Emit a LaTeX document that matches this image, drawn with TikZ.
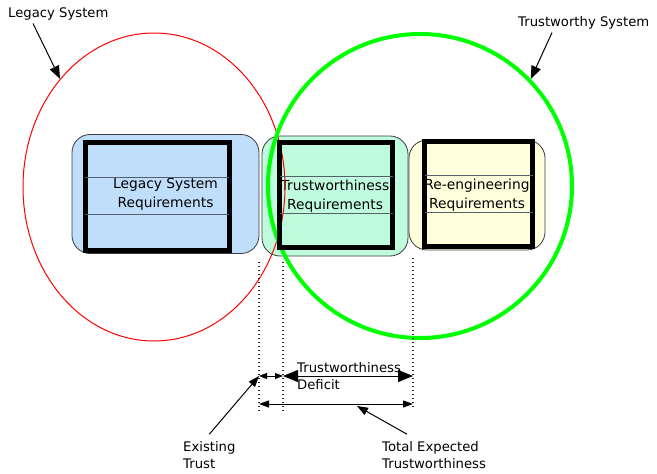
\documentclass[tikz,border=0pt]{standalone}
\usepackage{fontspec}
\setmainfont{DejaVu Sans}
\usetikzlibrary{arrows.meta,calc,shapes.geometric}

\definecolor{legacyblue}{RGB}{191,222,252}
\definecolor{trustmint}{RGB}{191,252,222}
\definecolor{reengyellow}{RGB}{255,255,222}
\definecolor{boxedge}{RGB}{60,60,60}
\definecolor{rowgray}{RGB}{85,95,105}

\tikzstyle{reqbox}=[draw=boxedge,line width=0.8pt,rounded corners=18pt,align=center,inner sep=0pt,font=\fontsize{13.8}{19}\selectfont]
\tikzstyle{reqframe}=[draw,line width=5pt,inner sep=0pt]
\tikzstyle{rowline}=[draw=rowgray,line width=1pt,shorten <=2.5pt,shorten >=2.5pt]
\tikzstyle{txt}=[font=\fontsize{13.2}{17}\selectfont,align=left,inner sep=0pt]
\tikzstyle{limit}=[draw=black!85,line width=1.2pt,dash pattern=on 1.4pt off 2.6pt]
\tikzstyle{pointer}=[draw,line width=1pt,-{Triangle[length=13pt,width=10pt]}]
\tikzstyle{callout}=[draw,line width=1pt,-{Triangle[length=11pt,width=8pt]}]
\tikzstyle{span}=[draw,line width=1pt]

\begin{document}
\begin{tikzpicture}[x=1pt,y=-1pt]
\useasboundingbox (0,0) rectangle (657,474);

% requirement boxes
\node[reqbox,fill=legacyblue,minimum width=187pt,minimum height=119pt] (lbox) at (165.5,194) {Legacy System\\Requirements};
\node[reqbox,fill=trustmint,minimum width=146pt,minimum height=120pt] (tbox) at (335,196) {Trustworthiness\\Requirements};
\node[reqbox,fill=reengyellow,minimum width=136pt,minimum height=110pt] (rbox) at (477,195) {Re-engineering\\Requirements};

% the two systems
\node[draw=red,line width=1pt,ellipse,minimum width=262pt,minimum height=308pt] (lsys) at (154,187) {};
\node[draw=green,line width=4pt,circle,minimum size=304pt] (tsys) at (420,186) {};

\node[reqframe,minimum width=144pt,minimum height=108pt] (lreq) at (157,196) {};
\node[reqframe,minimum width=113pt,minimum height=105pt] (treq) at (336,195) {};
\node[reqframe,minimum width=108pt,minimum height=105pt] (rreq) at (478.5,194) {};

\foreach \b in {lreq,treq,rreq} {
  \path[rowline] ($(\b.north west)!1/3!(\b.south west)$) -- ($(\b.north east)!1/3!(\b.south east)$);
  \path[rowline] ($(\b.north west)!2/3!(\b.south west)$) -- ($(\b.north east)!2/3!(\b.south east)$);
}

\node[txt,anchor=west] (lsl) at (8,14) {Legacy System};
\node[txt,anchor=west] (tsl) at (518,23) {Trustworthy System};
\path[pointer] ([xshift=25pt,yshift=-3pt]lsl.south west) -- (lsys.131);
\path[pointer] ([xshift=34pt,yshift=-3pt]tsl.south west) -- (tsys.44);

% dotted limits
\coordinate (d1t) at (259,262);
\coordinate (d1b) at (259,413);
\coordinate (d2t) at (283,262);
\coordinate (d2b) at (283,413);
\coordinate (d3t) at (413,258);
\coordinate (d3b) at (413,409);
\path[limit] (d1t) -- (d1b);
\path[limit] (d2t) -- (d2b);
\path[limit] (d3t) -- (d3b);

\coordinate (a1) at (259,376);
\coordinate (a2) at (283,376);
\coordinate (a3) at (413,376);
\coordinate (b1) at (259,404);
\coordinate (b3) at (413,404);
\coordinate (tpt) at (357,406);

\path[span,{Triangle[length=8pt,width=6pt]}-{Triangle[length=8pt,width=6pt]}] (a1) -- (a2);
\path[span,{Triangle[length=15pt,width=12pt]}-{Triangle[length=15pt,width=12pt]}] (a2) -- (a3);
\path[span,{Triangle[length=10pt,width=7pt]}-{Triangle[length=10pt,width=7pt]}] (b1) -- (b3);

\node[txt,anchor=west] (deficit) at (297,376) {Trustworthiness\\Deficit};
\node[txt,anchor=west] (etrust) at (183,455) {Existing\\Trust};
\node[txt,anchor=west] (texp) at (382,455) {Total Expected\\Trustworthiness};

\path[callout] ([yshift=7pt]etrust.north) -- (a1);
\path[callout] ([xshift=25pt,yshift=7pt]texp.north west) -- (tpt);

\end{tikzpicture}
\end{document}
